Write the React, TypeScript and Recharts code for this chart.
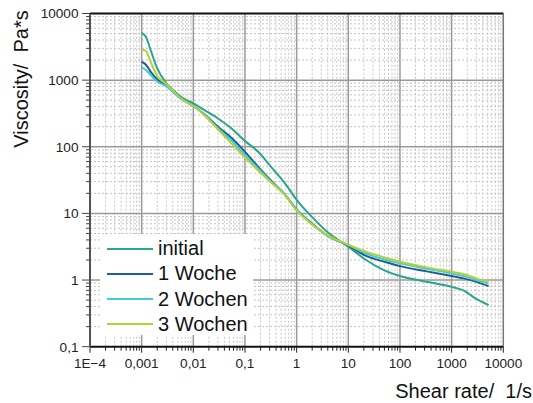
import { LineChart, Line, XAxis, YAxis, ReferenceLine } from "recharts";

// shear rate in 1/s, viscosity in Pa*s
const shearRate = [0.001, 0.0012, 0.0015, 0.002, 0.003, 0.004, 0.006, 0.01, 0.017, 0.03, 0.055, 0.1, 0.18, 0.32, 0.6, 1, 2, 4, 10, 22, 50, 100, 330, 1000, 1700, 3000, 5200];
const initial = [5130, 4500, 2800, 1500, 900, 720, 550, 447, 350, 266, 188, 122, 84, 50, 28, 16, 8.8, 5.2, 3.16, 2.0, 1.4, 1.15, 0.94, 0.79, 0.7, 0.52, 0.42];
const woche1 = [1880, 1720, 1330, 1020, 820, 680, 520, 410, 300, 200, 135, 84, 50, 31, 19, 11.5, 7, 4.6, 3.3, 2.3, 1.88, 1.62, 1.35, 1.15, 1.06, 0.94, 0.81];
const wochen2 = [1550, 1420, 1190, 950, 810, 670, 515, 410, 295, 190, 124, 75, 47, 30, 19, 11.5, 6.8, 4.6, 3.35, 2.5, 2.04, 1.78, 1.48, 1.26, 1.15, 1.0, 0.89];
const wochen3 = [2880, 2750, 1850, 1150, 880, 700, 520, 410, 290, 182, 112, 69, 44, 29, 18.5, 11, 6.8, 4.7, 3.4, 2.66, 2.19, 1.88, 1.55, 1.33, 1.23, 1.06, 0.94];

const xMajor = [1e-4, 1e-3, 1e-2, 1e-1, 1, 10, 100, 1000, 10000];
const xTickLabels = ["1E\u22124", "0,001", "0,01", "0,1", "1", "10", "100", "1000", "10000"];
const yMajor = [0.1, 1, 10, 100, 1000, 10000];
const yTickLabels = ["0,1", "1", "10", "100", "1000", "10000"];
const minorSteps = [2, 3, 4, 5, 6, 7, 8, 9];

const series = [
  { key: "initial", name: "initial", color: "#2aa68c" },
  { key: "woche1", name: "1 Woche", color: "#1f5f8c" },
  { key: "wochen2", name: "2 Wochen", color: "#45c8e2" },
  { key: "wochen3", name: "3 Wochen", color: "#b4d235" },
];

const data = shearRate.map((x, i) => ({
  x,
  initial: initial[i],
  woche1: woche1[i],
  wochen2: wochen2[i],
  wochen3: wochen3[i],
}));

const minorsOf = (majors: number[]) =>
  majors.slice(0, -1).flatMap((m) => minorSteps.map((s) => +(m * s).toPrecision(3)));

const xMinor = minorsOf(xMajor);
const yMinor = minorsOf(yMajor);

const FONT = "'Liberation Sans', Arial, sans-serif";

const XTick = ({ x, y, payload }: any) => {
  const idx = xMajor.findIndex((m) => Math.abs(m - payload.value) / m < 1e-6);
  const major = idx >= 0;
  return (
    <g>
      <line x1={x} x2={x} y1={y} y2={y + (major ? 6 : 4)} stroke="#222" strokeWidth={1} />
      {major && (
        <text x={x} y={y + 21.5} textAnchor="middle" fontSize={13.6} fill="#222" fontFamily={FONT}>
          {xTickLabels[idx]}
        </text>
      )}
    </g>
  );
};

const YTick = ({ x, y, payload }: any) => {
  const idx = yMajor.findIndex((m) => Math.abs(m - payload.value) / m < 1e-6);
  const major = idx >= 0;
  return (
    <g>
      <line x1={x - (major ? 8 : 4)} x2={x} y1={y} y2={y} stroke="#444" strokeWidth={1} />
      {major && (
        <text x={x - 11.5} y={y + 4.8} textAnchor="end" fontSize={13.6} fill="#222" fontFamily={FONT}>
          {yTickLabels[idx]}
        </text>
      )}
    </g>
  );
};

export default function App() {
  return (
    <div style={{ position: "absolute", left: 0, top: 0, width: 533, height: 403, background: "#fff" }}>
      <LineChart width={533} height={403} data={data} margin={{ top: 13.5, right: 29.7, left: 0, bottom: 26.3 }}>
        <XAxis
          dataKey="x"
          type="number"
          scale="log"
          domain={[1e-4, 1e4]}
          allowDataOverflow
          ticks={[...xMajor, ...xMinor]}
          interval={0}
          tick={<XTick />}
          tickLine={false}
          tickSize={0}
          tickMargin={0}
          height={30}
          axisLine={{ stroke: "#111", strokeWidth: 2 }}
        />
        <YAxis
          type="number"
          scale="log"
          domain={[0.1, 10000]}
          allowDataOverflow
          ticks={[...yMajor, ...yMinor]}
          interval={0}
          tick={<YTick />}
          tickLine={false}
          tickSize={0}
          tickMargin={0}
          width={90}
          axisLine={{ stroke: "#555", strokeWidth: 2 }}
        />
        {xMinor.map((v) => (
          <ReferenceLine key={"xm" + v} x={v} stroke="#c4c4c4" strokeWidth={1} strokeDasharray="2 2" />
        ))}
        {yMinor.map((v) => (
          <ReferenceLine key={"ym" + v} y={v} stroke="#c4c4c4" strokeWidth={1} strokeDasharray="2 2" />
        ))}
        {xMajor.slice(1, -1).map((v) => (
          <ReferenceLine key={"xM" + v} x={v} stroke="#9a9a9a" strokeWidth={1.5} />
        ))}
        {yMajor.slice(1, -1).map((v) => (
          <ReferenceLine key={"yM" + v} y={v} stroke="#9a9a9a" strokeWidth={1.5} />
        ))}
        <ReferenceLine x={10000} stroke="#777" strokeWidth={1.5} />
        <ReferenceLine y={10000} stroke="#111" strokeWidth={2} />
        {series.map((s) => (
          <Line
            key={s.key}
            dataKey={s.key}
            name={s.name}
            type="monotone"
            stroke={s.color}
            strokeWidth={2}
            dot={false}
            isAnimationActive={false}
          />
        ))}
      </LineChart>

      {/* legend box */}
      <div
        style={{
          position: "absolute",
          left: 100,
          top: 234,
          width: 153,
          height: 101,
          background: "#fff",
          fontFamily: FONT,
          fontSize: 20,
          color: "#111",
        }}
      >
        {series.map((s, i) => (
          <div key={s.key} style={{ position: "absolute", left: 7, top: 2 + i * 25.3, height: 25, display: "flex", alignItems: "center" }}>
            <span style={{ display: "inline-block", width: 46, height: 2, background: s.color, marginRight: 5 }} />
            <span style={{ lineHeight: "25px" }}>{s.name}</span>
          </div>
        ))}
      </div>

      <div
        style={{
          position: "absolute",
          left: 21,
          top: 79,
          transform: "translate(-50%, -50%) rotate(-90deg)",
          whiteSpace: "pre",
          fontFamily: FONT,
          fontSize: 20,
          color: "#111",
        }}
      >
        {"Viscosity/  Pa*s"}
      </div>
      <div
        style={{
          position: "absolute",
          right: 1,
          top: 380,
          whiteSpace: "pre",
          fontFamily: FONT,
          fontSize: 20,
          color: "#111",
        }}
      >
        {"Shear rate/  1/s"}
      </div>
    </div>
  );
}
